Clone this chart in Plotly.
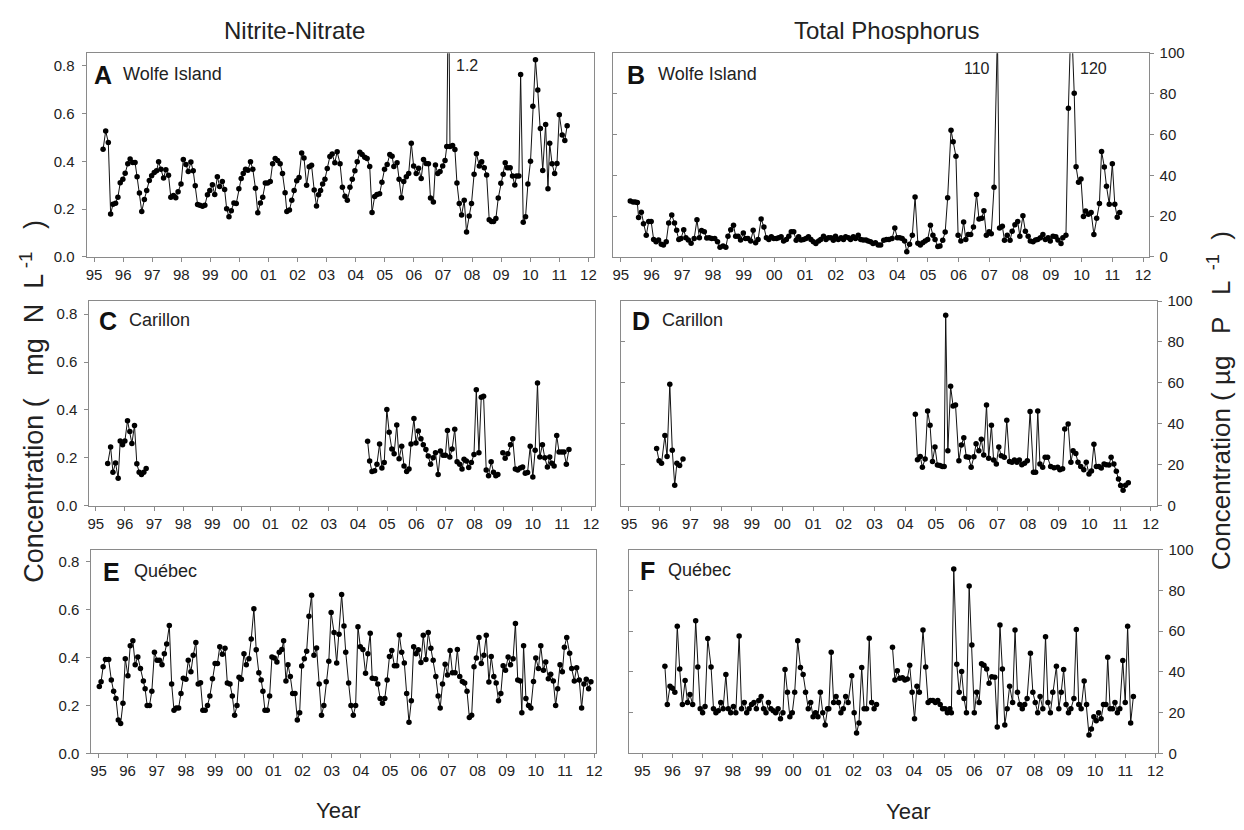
import plotly.graph_objects as go

# page body adds an 8 px margin: build the figure 8 px smaller and shift positions
OFF = 8
W, H = 1244 - OFF, 830 - OFF
FONT = "Liberation Sans, Arial, sans-serif"
NB = "\u00a0"

# ---------------- data (x = years since 1900) ----------------
A_t = [95.31,95.40,95.49,95.57,95.65,95.74,95.82,95.90,95.99,96.07,96.16,96.24,96.33,96.41,96.48,96.56,96.64,96.73,96.81,96.90,96.98,
       97.07,97.15,97.22,97.30,97.39,97.47,97.56,97.64,97.73,97.81,97.89,97.99,98.07,98.16,98.24,98.33,98.41,98.48,98.56,98.64,98.73,
       98.81,98.90,98.98,99.07,99.15,99.24,99.32,99.41,99.49,99.56,99.64,99.72,99.81,99.89,99.98,100.06,100.13,100.21,100.29,100.38,
       100.46,100.55,100.63,100.72,100.80,100.89,100.97,101.06,101.14,101.23,101.31,101.40,101.48,101.57,101.63,101.72,101.80,101.88,
       101.97,102.05,102.14,102.22,102.31,102.40,102.48,102.57,102.65,102.72,102.79,102.86,102.94,103.02,103.11,103.19,103.28,103.36,
       103.46,103.54,103.63,103.71,103.80,103.88,103.97,104.05,104.14,104.22,104.31,104.39,104.48,104.56,104.65,104.73,104.82,104.90,
       104.99,105.08,105.17,105.25,105.31,105.42,105.49,105.57,105.65,105.74,105.82,105.91,105.99,106.08,106.16,106.25,106.33,106.42,
       106.50,106.57,106.67,106.74,106.82,106.90,106.99,107.07,107.13,107.19,107.24,107.33,107.41,107.48,107.56,107.64,107.73,107.81,
       107.90,107.98,108.07,108.15,108.25,108.33,108.42,108.50,108.59,108.67,108.74,108.82,108.90,108.99,109.07,109.14,109.21,109.31,
       109.39,109.47,109.53,109.61,109.67,109.76,109.84,109.92,110.01,110.09,110.18,110.26,110.35,110.43,110.53,110.61,110.67,110.75,
       110.84,110.92,111.00,111.10,111.19,111.27]
A_v = [.45,.527,.479,.18,.22,.225,.25,.31,.325,.35,.39,.41,.395,.395,.335,.267,.19,.24,.278,.32,.34,
       .353,.36,.398,.367,.33,.365,.342,.25,.257,.248,.273,.305,.408,.387,.357,.397,.36,.298,.219,.216,.212,
       .216,.26,.278,.302,.261,.335,.295,.316,.282,.202,.168,.193,.226,.223,.285,.328,.349,.367,.363,.398,
       .367,.287,.185,.226,.25,.309,.309,.315,.39,.412,.403,.39,.349,.268,.19,.196,.237,.278,
       .319,.332,.435,.414,.30,.377,.383,.28,.213,.26,.278,.305,.325,.37,.42,.43,.394,.44,
       .39,.291,.254,.237,.291,.325,.36,.398,.438,.428,.417,.412,.378,.186,.253,.261,.264,.312,
       .367,.387,.428,.421,.378,.394,.325,.248,.315,.335,.349,.476,.38,.349,.371,.328,.408,.391,
       .39,.246,.23,.384,.349,.357,.38,.403,.462,1.2,.462,.466,.449,.309,.223,.175,.237,.104,
       .171,.223,.346,.432,.38,.398,.373,.343,.155,.148,.148,.161,.246,.308,.346,.394,.373,.373,
       .339,.301,.339,.339,.763,.145,.168,.305,.40,.63,.825,.698,.537,.362,.554,.285,.476,.39,
       .349,.391,.595,.51,.487,.549]

B_t = [95.31,95.40,95.47,95.54,95.58,95.67,95.74,95.83,95.91,95.99,96.07,96.15,96.23,96.32,96.39,96.48,96.56,96.66,96.75,96.82,96.89,
       96.96,97.05,97.12,97.20,97.29,97.39,97.48,97.56,97.63,97.72,97.80,97.88,97.96,98.06,98.15,98.23,98.33,98.42,98.49,98.58,98.67,
       98.74,98.82,98.90,98.99,99.06,99.14,99.23,99.31,99.39,99.47,99.57,99.66,99.74,99.82,99.90,99.98,100.07,100.14,100.22,100.30,
       100.39,100.47,100.55,100.63,100.71,100.79,100.87,100.95,101.03,101.11,101.19,101.27,101.35,101.44,101.51,101.60,101.68,101.76,
       101.84,101.92,101.99,102.08,102.17,102.25,102.32,102.41,102.48,102.57,102.64,102.73,102.81,102.89,102.98,103.05,103.13,103.21,
       103.29,103.38,103.46,103.56,103.65,103.73,103.83,103.92,104.00,104.08,104.16,104.24,104.31,104.40,104.49,104.58,104.67,104.75,
       104.83,104.91,104.99,105.08,105.16,105.23,105.32,105.39,105.48,105.56,105.64,105.75,105.82,105.91,105.98,106.07,106.16,106.23,
       106.31,106.39,106.48,106.58,106.66,106.75,106.82,106.90,106.99,107.06,107.15,107.26,107.33,107.42,107.49,107.58,107.67,107.74,
       107.83,107.92,107.99,108.09,108.17,108.26,108.33,108.42,108.50,108.57,108.66,108.74,108.82,108.91,108.98,109.07,109.16,109.23,
       109.33,109.39,109.49,109.57,109.66,109.76,109.82,109.90,109.98,110.06,110.13,110.22,110.31,110.40,110.49,110.58,110.65,110.74,
       110.81,110.90,111.00,111.08,111.16,111.24]
B_v = [27.5,27,27,26.7,19.4,21.9,16.3,10.6,17.4,17.4,8.6,7.5,8.3,6.2,5.8,7.5,16.6,20.6,16.6,13.1,8.6,
       9,13.4,9.4,8.3,6.7,9,18.2,9.4,13,12.3,9.3,9.4,9,9,7.4,4.8,5.4,4.8,10.2,13.4,15.5,
       10.2,10.2,8.3,11.8,9.1,9,7.8,13.1,7,8.6,18.6,14.7,9.4,8.6,9.9,9,9,9.4,9.9,7.8,
       8.6,10.2,12.3,12.3,8.2,9.9,8.3,8.6,9.1,9.9,8.6,7.4,6.6,7.8,8.6,10.2,8.6,9.4,
       9.4,8.2,10.2,8.6,9.4,8.6,9.9,9.4,8.6,9.9,9.1,10.6,8.6,8.3,8.3,7.8,7.4,6.6,
       7,5.9,5.9,8.2,8.6,8.6,9,14.2,9.4,9.4,9,7.8,2.6,6.2,10.6,29.4,6.7,5.9,
       7,7.8,8.6,15.5,10.6,8.6,5.1,5.4,8.2,12.2,29,62.2,56.6,49.4,10.6,7.8,17.1,8.6,
       11,11,14.7,30.7,18.6,19,22.7,10.7,12.3,11.4,34.2,110,14.2,15,8.2,10.6,8.2,12.6,
       15.8,17.4,10.2,20.2,12.6,10.2,7.8,7.4,8.3,8.6,9.4,11,8.6,9.4,7.8,10.2,9.9,8.3,
       6.6,9.4,10.6,73,120,80.3,44.3,36.6,38.2,19.8,22.6,21,21.8,11,19,26.2,51.8,44.2,
       34.7,25.9,45.8,25.9,19.5,21.8]

C_t = [95.41,95.51,95.59,95.68,95.77,95.84,95.92,96.00,96.09,96.17,96.24,96.33,96.41,96.49,96.57,96.65,96.73,None,
       104.33,104.40,104.48,104.57,104.65,104.74,104.82,104.90,104.99,105.07,105.16,105.24,105.33,105.41,105.50,105.58,105.67,
       105.75,105.82,105.92,105.99,106.07,106.16,106.24,106.33,106.41,106.49,106.58,106.66,106.75,106.83,106.92,107.00,107.07,
       107.15,107.23,107.32,107.40,107.49,107.57,107.64,107.72,107.80,107.89,107.98,108.06,108.15,108.23,108.31,108.40,108.48,
       108.57,108.65,108.73,108.80,None,108.97,109.05,109.14,109.23,109.31,109.40,109.48,109.57,109.65,109.74,109.82,109.91,
       110.00,110.08,110.16,110.24,110.33,110.41,110.50,110.58,110.65,110.73,110.82,110.90,110.99,111.07,111.15,111.24]
C_v = [.176,.245,.14,.178,.115,.27,.255,.27,.355,.31,.26,.335,.175,.14,.13,.14,.155,None,
       .269,.187,.143,.146,.173,.258,.157,.18,.402,.307,.237,.217,.337,.196,.248,.166,.143,
       .153,.258,.364,.262,.312,.28,.255,.235,.207,.173,.20,.221,.13,.228,.211,.211,.314,
       .203,.237,.319,.183,.173,.153,.194,.187,.16,.18,.214,.484,.221,.453,.457,.149,.125,
       .183,.14,.125,.13,None,.221,.198,.217,.255,.28,.153,.149,.157,.162,.135,.139,.248,
       .12,.232,.512,.203,.255,.20,.162,.203,.177,.166,.293,.224,.224,.224,.173,.235]

D_t = [95.90,95.98,96.06,96.17,96.24,96.33,96.41,96.49,96.56,96.65,96.76,None,
       104.33,104.40,104.49,104.56,104.65,104.73,104.81,104.89,104.97,105.05,105.13,105.21,105.27,105.32,105.39,105.48,105.56,
       105.64,105.75,105.83,105.91,105.99,106.07,106.15,106.24,106.31,106.40,106.48,106.56,106.65,106.72,106.81,106.88,106.97,
       107.05,107.13,107.23,107.31,107.40,107.48,107.56,107.64,107.72,107.80,107.89,107.98,108.07,108.18,108.25,108.32,108.39,
       108.48,108.56,108.64,108.74,108.85,108.97,109.04,109.13,109.20,109.31,109.40,109.47,109.56,109.63,109.72,109.82,109.90,
       109.99,110.07,110.15,110.23,110.31,110.39,110.48,110.55,110.64,110.71,110.80,110.88,110.95,111.02,111.10,111.18,111.27]
D_v = [27.9,22,20.7,34.3,24,59.3,27.1,10,20.7,19.6,22.8,None,
       44.7,22.4,24,18.8,22.8,46.3,39.3,21.6,28.7,19.9,19.6,19.2,19.2,93,26.8,58.3,48.7,
       49.2,22,29.6,33.2,23.9,23.6,18.8,23.9,30.3,26.8,32.4,24.8,49.2,23.2,39.3,22.3,20.4,
       28.7,24.4,23.6,41.7,21.6,21.2,22.3,21.2,22.3,20,20.7,22,46,16.3,16.3,46.3,20.4,
       18.8,23.6,23.6,19.2,18.5,18.8,17.5,18,37.5,39.9,21.2,26.8,25.5,21.2,19.1,17.5,21.2,
       15.5,17,30,19.1,19.1,18.4,20.4,20,19.9,23.6,20.4,16.8,13,9.9,7.5,10,11.2]

E_t = [95.03,95.09,95.16,95.24,95.35,95.44,95.52,95.60,95.68,95.76,95.84,95.92,96.01,96.09,96.18,96.26,96.35,96.44,96.54,96.60,
       96.67,96.75,96.83,96.92,97.01,97.09,97.18,97.26,97.34,97.43,97.51,97.59,97.67,97.75,97.83,97.91,98.00,98.08,98.17,98.25,
       98.34,98.42,98.50,98.58,98.66,98.74,98.82,98.91,99.00,99.08,99.16,99.25,99.34,99.42,99.51,99.59,99.67,99.75,99.82,99.90,
       99.99,100.07,100.16,100.24,100.33,100.41,100.50,100.58,100.64,100.71,100.79,100.87,100.95,101.03,101.12,101.20,101.29,101.35,
       101.43,101.50,101.58,101.66,101.74,101.82,101.90,101.97,102.06,102.14,102.22,102.31,102.39,102.48,102.57,102.65,102.73,102.81,
       102.90,102.98,103.08,103.17,103.25,103.34,103.42,103.48,103.58,103.66,103.74,103.82,103.90,103.98,104.07,104.16,104.24,104.32,
       104.39,104.50,104.58,104.66,104.74,104.82,104.90,104.98,105.06,105.15,105.23,105.32,105.40,105.49,105.57,105.65,105.73,105.81,
       105.89,105.97,106.06,106.14,106.23,106.31,106.40,106.48,106.57,106.65,106.72,106.80,106.89,106.97,107.06,107.14,107.23,107.31,
       107.39,107.48,107.56,107.64,107.72,107.80,107.88,107.96,108.05,108.13,108.22,108.30,108.39,108.47,108.56,108.64,108.72,108.80,
       108.88,108.96,109.05,109.13,109.22,109.30,109.38,109.47,109.52,109.58,109.66,109.75,109.83,109.92,110.00,110.09,110.17,110.26,
       110.34,110.43,110.51,110.60,110.68,110.75,110.83,110.91,110.98,111.06,111.16,111.23,111.32,111.40,111.49,111.57,111.65,111.73,
       111.81,111.89]
E_v = [.28,.30,.362,.393,.392,.307,.26,.23,.14,.125,.21,.396,.325,.45,.471,.371,.403,.355,.303,.27,
       .20,.20,.26,.423,.389,.389,.371,.416,.457,.535,.29,.18,.19,.19,.25,.314,.31,.389,.341,.41,
       .464,.29,.295,.18,.18,.20,.24,.312,.376,.376,.446,.414,.44,.294,.29,.24,.16,.20,.318,.31,
       .416,.371,.396,.478,.604,.433,.337,.307,.26,.18,.18,.24,.403,.399,.382,.423,.434,.471,
       .303,.371,.321,.25,.25,.14,.17,.365,.396,.427,.573,.661,.41,.441,.29,.16,.20,.30,
       .385,.589,.505,.378,.498,.664,.532,.423,.294,.20,.16,.20,.529,.446,.434,.335,.416,.502,
       .314,.312,.29,.23,.21,.23,.307,.405,.43,.366,.366,.495,.423,.378,.25,.13,.22,.446,
       .416,.433,.38,.494,.392,.505,.44,.389,.321,.24,.19,.29,.373,.328,.43,.337,.337,.434,
       .321,.301,.294,.26,.15,.16,.362,.399,.484,.376,.41,.494,.298,.405,.321,.294,.22,.25,
       .366,.348,.403,.371,.396,.543,.307,.303,.17,.45,.23,.20,.19,.301,.399,.355,.45,.348,
       .382,.312,.331,.303,.20,.27,.371,.341,.444,.484,.419,.355,.303,.358,.307,.19,.29,.31,
       .27,.30]

F_t = [95.75,95.83,95.92,96.00,96.08,96.16,96.24,96.33,96.42,96.50,96.58,96.67,96.77,96.84,96.92,97.00,97.08,97.17,97.28,97.36,
       97.44,97.52,97.60,97.68,97.77,97.85,97.93,98.02,98.10,98.21,98.29,98.38,98.46,98.54,98.62,98.70,98.78,98.86,98.94,99.02,
       99.10,99.18,99.26,99.34,99.42,99.50,99.58,99.66,99.73,99.81,99.89,99.97,100.05,100.15,100.24,100.33,100.41,100.50,100.58,100.66,
       100.74,100.82,100.90,100.98,101.06,101.14,101.18,101.26,101.34,101.42,101.50,101.58,101.66,101.74,101.82,101.94,102.02,102.10,
       102.18,102.27,102.35,102.43,102.52,102.60,102.68,102.76,None,
       103.29,103.37,103.45,103.53,103.62,103.70,103.78,103.86,103.94,104.02,104.10,104.18,104.30,104.39,104.47,104.55,104.63,104.71,
       104.79,104.87,104.95,105.03,105.11,105.19,105.24,105.32,105.42,105.50,105.58,105.66,105.74,105.83,105.92,106.00,106.08,106.16,
       106.24,106.32,106.41,106.49,106.58,106.68,106.76,106.85,106.93,107.01,107.09,107.17,107.27,107.35,107.43,107.51,107.59,107.67,
       107.75,107.86,107.94,108.02,108.10,108.18,108.27,108.36,108.44,108.52,108.60,108.72,108.80,108.88,108.96,109.04,109.12,109.20,
       109.30,109.38,109.46,109.54,109.64,109.72,109.80,109.88,109.96,110.04,110.12,110.20,110.28,110.36,110.42,110.50,110.58,110.66,
       110.74,110.82,110.92,111.00,111.08,111.18,111.27]
F_v = [42.8,24,33,32,30,62.5,41.4,24,35.8,25,29,24,65.2,42.5,22,20,23,56.4,42.5,22,
       20,21,25,22,38.8,22,20,23,20,57.7,22,25,20,22,24,25,22,26,28,22,
       20,25,22,21,20,22,17,20,41.2,30,18,20,30,55.3,42.2,38.8,30,22,25,18,
       20,18,30,20,14,22,22,49.7,25,28,25,20,22,28,25,38.2,20,10,
       15,42.2,22,22,56.6,25,22,24,None,
       52.1,36,40.6,36.9,37.2,36,36.6,43.3,30,17,33,30,60.6,42.5,25,26,26,25,
       26,24,22,22,20,22,20,90.5,43.8,30,40.2,27,20,82.2,53.2,20,30,25,
       44,43.3,41.4,34.5,37.7,37.4,13,63,41.4,14,22,33,25,60.6,30,24,22,24,
       27,49.2,30,25,20,28,22,57.3,25,20,30,42.8,22,30,41.2,24,20,22,
       27,60.9,24,22,35.6,24,9,12,18,16,20,17,24,24,47.2,22,22,25,
       20,22,45.6,25,62.5,15,28]

YEAR_TICKS = list(range(95, 113))
YEAR_TEXT = ["95", "96", "97", "98", "99", "00", "01", "02", "03", "04", "05", "06",
             "07", "08", "09", "10", "11", "12"]
N_TICKS = [0.0, 0.2, 0.4, 0.6, 0.8]
P_TICKS = [0, 20, 40, 60, 80, 100]

def fx(x):  # screen pixel -> paper fraction
    return (x - OFF) / W

def fy(y):
    return 1 - (y - OFF) / H

# ---------------- layout geometry (screen pixels) ----------------
panels = [
    dict(t=A_t, v=A_v, box=(85, 45, 596, 253), xr=[94.74, 112.2], yr=[0, 0.852], side="left"),
    dict(t=B_t, v=B_v, box=(615, 45, 1154, 253), xr=[94.75, 112.18], yr=[0, 100], side="right"),
    dict(t=C_t, v=C_v, box=(88, 298, 597, 507), xr=[94.785, 112.14], yr=[0, 0.855], side="left"),
    dict(t=D_t, v=D_v, box=(623, 298, 1162, 507), xr=[94.74, 112.19], yr=[0, 100], side="right"),
    dict(t=E_t, v=E_v, box=(90, 552, 598, 760), xr=[94.76, 112.07], yr=[0, 0.851], side="left"),
    dict(t=F_t, v=F_v, box=(631, 552, 1163, 760), xr=[94.56, 112.07], yr=[0, 100], side="right"),
]

FRAME = "#8a8a8a"
TXT = "#222222"

fig = go.Figure()
layout = dict(width=W, height=H, margin=dict(l=0, r=0, t=0, b=0), autosize=False,
              paper_bgcolor="white", plot_bgcolor="white", showlegend=False,
              font=dict(family=FONT, color=TXT, size=15))

extra = 7
for i, p in enumerate(panels, start=1):
    l, t, r, b = p["box"]
    xa = "xaxis" if i == 1 else f"xaxis{i}"
    ya = "yaxis" if i == 1 else f"yaxis{i}"
    xs = "x" if i == 1 else f"x{i}"
    ys = "y" if i == 1 else f"y{i}"
    fig.add_trace(go.Scatter(x=p["t"], y=p["v"], xaxis=xs, yaxis=ys, mode="lines+markers",
                             line=dict(color="#111111", width=1),
                             marker=dict(color="#000000", size=5.5),
                             connectgaps=False, cliponaxis=True, hoverinfo="skip"))
    layout[xa] = dict(domain=[fx(l), fx(r)], anchor=ys, range=p["xr"], tickvals=YEAR_TICKS,
                      ticktext=YEAR_TEXT, ticks="outside", ticklen=4, tickcolor=FRAME,
                      showline=True, mirror=True, linecolor=FRAME, linewidth=1,
                      showgrid=False, zeroline=False, tickfont=dict(size=15, color=TXT))
    if p["side"] == "left":
        layout[ya] = dict(domain=[fy(b), fy(t)], anchor=xs, range=p["yr"], tickvals=N_TICKS,
                          tickformat=".1f", ticks="outside", ticklen=4, tickcolor=FRAME,
                          showline=True, mirror=True, linecolor=FRAME, linewidth=1,
                          showgrid=False, zeroline=False, tickfont=dict(size=15, color=TXT),
                          ticklabelstandoff=4)
    else:
        layout[ya] = dict(domain=[fy(b), fy(t)], anchor=xs, range=p["yr"], tickvals=P_TICKS,
                          side="right", ticks="outside", ticklen=4, tickcolor=FRAME,
                          showline=True, mirror=True, linecolor=FRAME, linewidth=1,
                          showgrid=False, zeroline=False, tickfont=dict(size=15, color=TXT),
                          ticklabelstandoff=3)
        # inner tick marks on the left edge of the phosphorus panels
        oy = f"yaxis{extra}"
        fig.add_trace(go.Scatter(x=[None], y=[None], xaxis=xs, yaxis=f"y{extra}",
                                 mode="markers", hoverinfo="skip"))
        layout[oy] = dict(overlaying=ys, anchor=xs, side="left", range=p["yr"],
                          tickvals=[20, 40, 60, 80], ticks="inside", ticklen=4, tickcolor=FRAME,
                          showticklabels=False, showline=False, showgrid=False, zeroline=False)
        extra += 1

fig.update_layout(**layout)

def ann(text, x, y, size, xanchor="left", bold=False, angle=0):
    fig.add_annotation(text=f"<b>{text}</b>" if bold else text, x=fx(x), y=fy(y),
                       xref="paper", yref="paper", xanchor=xanchor, yanchor="middle",
                       showarrow=False, textangle=angle,
                       font=dict(family=FONT, size=size, color="#111111" if bold else TXT))

# column titles
ann("Nitrite-Nitrate", 294, 22, 24, "center")
ann("Total Phosphorus", 890, 22, 24, "center")

# panel labels
labels = [("A", "Wolfe Island", 91, 120, 67), ("B", "Wolfe Island", 627, 658, 67),
          ("C", "Carillon", 96, 126, 318), ("D", "Carillon", 632, 662, 318),
          ("E", "Québec", 100, 131, 575), ("F", "Québec", 640, 668, 574)]
for let, site, xl, xs_, yc in labels:
    ann(let, xl, yc, 25, "left", bold=True)
    ann(site, xs_, yc - 1, 18, "left")

# spike value labels
ann("1.2", 455, 58, 16, "left")
ann("110", 996, 61, 16, "right")
ann("120", 1083, 61, 16, "left")

# axis titles
left_title = ("Concentration" + NB + "(" + NB * 3 + "mg" + NB * 2 + "N" + NB * 2 + "L"
              + "<sup>" + NB + "-1</sup>" + NB * 3 + ")")
right_title = ("Concentration" + NB + "(" + NB + "µg" + NB * 3 + "P" + NB * 3 + "L"
               + "<sup>" + NB * 2 + "-1</sup>" + NB * 2 + ")")
ann(left_title, 30, 400, 27, "center", angle=-90)
ann(right_title, 1226, 400, 26, "center", angle=-90)
ann("Year", 338, 818, 22, "center")
ann("Year", 912, 819, 22, "center")

fig.write_html("out.html")
